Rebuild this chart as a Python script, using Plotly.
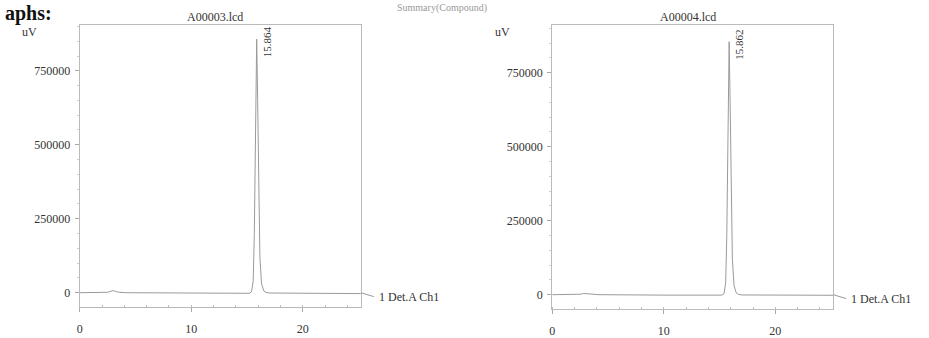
import plotly.graph_objects as go

W, H = 929, 338

# ---- data ----
time_a = [0, 2.0, 2.5, 2.8, 3.0, 3.2, 3.6, 4.2, 10.0, 15.2, 15.4, 15.55, 15.65, 15.75, 15.864,
          15.95, 16.05, 16.15, 16.3, 16.5, 16.7, 17.0, 25.2]
signal_a = [0, 0, 1500, 5000, 7000, 4500, 1000, 0, -2000, -2000, 3000, 40000, 200000, 560000, 857000,
            650000, 320000, 120000, 30000, 6000, 1000, -1000, -3000]

time_b = [0, 2.0, 2.5, 2.8, 3.1, 3.5, 4.2, 10.0, 15.2, 15.4, 15.55, 15.65, 15.75, 15.862,
          15.95, 16.05, 16.15, 16.3, 16.5, 16.7, 17.0, 25.2]
signal_b = [0, 0, 1500, 4000, 3000, 800, 0, -1500, -1500, 3000, 40000, 200000, 560000, 855000,
            650000, 320000, 120000, 30000, 6000, 1000, -1000, -2000]

titles = ["A00003.lcd", "A00004.lcd"]
peak_labels = ["15.864", "15.862"]
y_ticks = [0, 250000, 500000, 750000]
y_tick_text = ["0", "250000", "500000", "750000"]
x_ticks = [0, 10, 20]
channel_label = "1 Det.A Ch1"
unit_label = "uV"

FONT = "Liberation Serif"
LINE = "#9a9a9a"
TXT = "#333333"

def xp(px):
    return px / W

def yp(py):
    return 1 - py / H

fig = go.Figure()
fig.add_trace(go.Scatter(x=time_a, y=signal_a, mode="lines", line=dict(color=LINE, width=1),
                         xaxis="x", yaxis="y", showlegend=False, hoverinfo="skip"))
fig.add_trace(go.Scatter(x=time_b, y=signal_b, mode="lines", line=dict(color=LINE, width=1),
                         xaxis="x2", yaxis="y2", showlegend=False, hoverinfo="skip"))

panels = [
    dict(x0=77, x1=359, y0=25, y1=313, zero=298),
    dict(x0=551, x1=833, y0=25, y1=315, zero=300),
]

def xaxis_cfg(p, anchor):
    return dict(domain=[xp(p["x0"]), xp(p["x1"])], range=[0, 25.2], anchor=anchor,
                tickvals=x_ticks, ticks="outside", ticklen=4, tickcolor="#aaaaaa",
                showline=True, linecolor="#bbbbbb", linewidth=1, mirror=True,
                showgrid=False, zeroline=False,
                tickfont=dict(family=FONT, size=12, color=TXT), ticklabelstandoff=6,
                minor=dict(dtick=2, ticks="inside", ticklen=2, tickcolor="#bbbbbb", showgrid=False))

def yaxis_cfg(p, anchor):
    scale = 250000 / 75.3
    lo = -(p["y1"] - p["zero"]) * scale
    hi = (p["zero"] - p["y0"]) * scale
    return dict(domain=[yp(p["y1"]), yp(p["y0"])], range=[lo, hi], anchor=anchor,
                tickvals=y_ticks, ticktext=y_tick_text, ticks="outside", ticklen=4,
                tickcolor="#aaaaaa",
                showline=True, linecolor="#bbbbbb", linewidth=1, mirror=True,
                showgrid=False, zeroline=False,
                tickfont=dict(family=FONT, size=12, color=TXT), ticklabelstandoff=2,
                minor=dict(dtick=50000, ticks="outside", ticklen=2, tickcolor="#cccccc", showgrid=False))

fig.update_layout(
    width=W, height=H, margin=dict(l=0, r=0, t=0, b=0),
    paper_bgcolor="white", plot_bgcolor="white",
    xaxis=xaxis_cfg(panels[0], "y"), yaxis=yaxis_cfg(panels[0], "x"),
    xaxis2=xaxis_cfg(panels[1], "y2"), yaxis2=yaxis_cfg(panels[1], "x2"),
)

ann = []
shapes = []
peak_t = [15.864, 15.862]
peak_h = [857000, 855000]
for i, p in enumerate(panels):
    cx = (p["x0"] + p["x1"]) / 2 - 5
    ann.append(dict(x=xp(cx), y=yp(17), xref="paper", yref="paper", text=titles[i],
                    showarrow=False, font=dict(family=FONT, size=12, color=TXT),
                    xanchor="center", yanchor="middle"))
    ann.append(dict(x=xp(p["x0"] - 50), y=yp(33), xref="paper", yref="paper", text=unit_label,
                    showarrow=False, font=dict(family=FONT, size=12, color=TXT),
                    xanchor="center", yanchor="middle"))
    xr = "x" if i == 0 else "x2"
    yr = "y" if i == 0 else "y2"
    ann.append(dict(x=peak_t[i], y=peak_h[i], xref=xr, yref=yr, text=peak_labels[i],
                    showarrow=False, textangle=-90, font=dict(family=FONT, size=11, color=TXT),
                    xanchor="center", yanchor="bottom", xshift=10, yshift=-20))
    ann.append(dict(x=xp(p["x1"] + 16), y=yp(p["zero"] + 4), xref="paper", yref="paper",
                    text=channel_label, showarrow=False,
                    font=dict(family=FONT, size=12, color=TXT), xanchor="left", yanchor="middle"))
    shapes.append(dict(type="line", xref="paper", yref="paper",
                       x0=xp(p["x1"]), y0=yp(p["zero"]), x1=xp(p["x1"] + 13), y1=yp(p["zero"] + 4),
                       line=dict(color="#999999", width=1)))

ann.append(dict(x=0, y=1, xref="paper", yref="paper", text="<b>aphs:</b>",
                showarrow=False, font=dict(family=FONT, size=20, color="#111111"),
                xanchor="left", yanchor="top"))
ann.append(dict(x=xp(440), y=1, xref="paper", yref="paper", text="Summary(Compound)",
                showarrow=False, font=dict(family=FONT, size=10, color="#999999"),
                xanchor="center", yanchor="top"))

fig.update_layout(annotations=ann, shapes=shapes)
fig.write_html("out.html", config={"displayModeBar": False},
               post_script="document.body.style.margin='0px';document.body.style.padding='0px';")
